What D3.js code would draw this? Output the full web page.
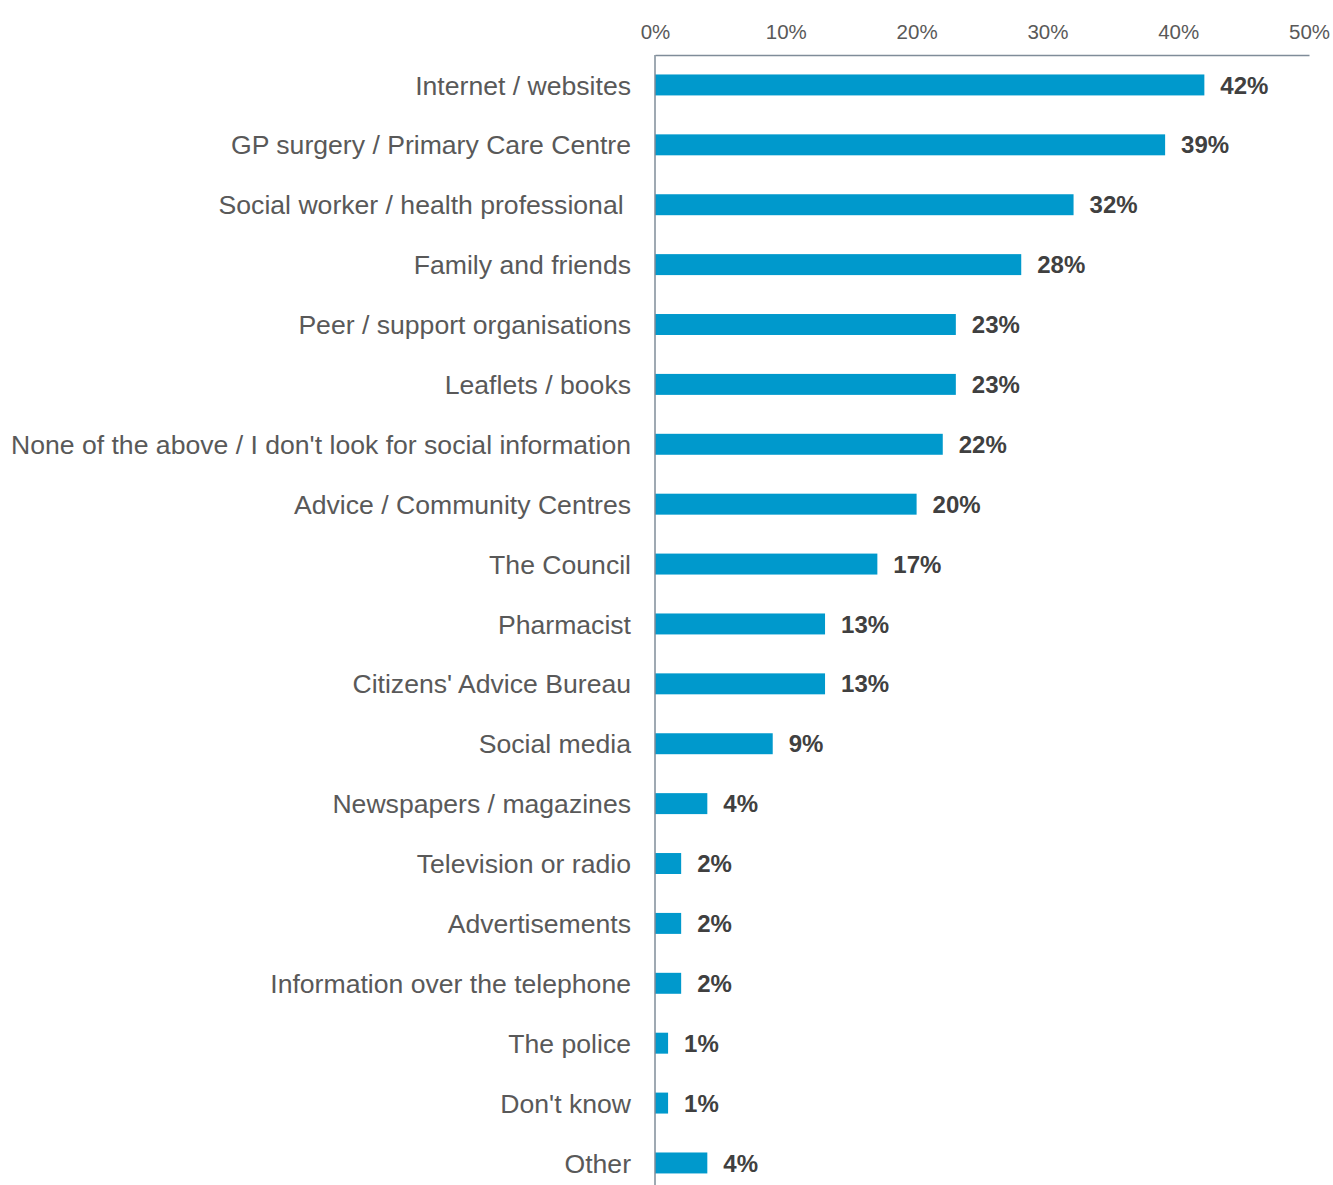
<!DOCTYPE html>
<html>
<head>
<meta charset="utf-8">
<script src="https://cdn.jsdelivr.net/npm/d3@7"></script>
<style>
  html, body { margin: 0; padding: 0; background: #ffffff; }
  svg { display: block; font-family: "Liberation Sans", Arial, sans-serif; }
</style>
</head>
<body>
<svg id="chart" width="1333" height="1185"></svg>
<script>
// Where people look for social information (% of respondents)
const categories = [
  "Internet / websites",
  "GP surgery / Primary Care Centre",
  "Social worker / health professional ",
  "Family and friends",
  "Peer / support organisations",
  "Leaflets / books",
  "None of the above / I don't look for social information",
  "Advice / Community Centres",
  "The Council",
  "Pharmacist",
  "Citizens' Advice Bureau",
  "Social media",
  "Newspapers / magazines",
  "Television or radio",
  "Advertisements",
  "Information over the telephone",
  "The police",
  "Don't know",
  "Other"
];
const values = [42, 39, 32, 28, 23, 23, 22, 20, 17, 13, 13, 9, 4, 2, 2, 2, 1, 1, 4];
const tickValues = [0, 10, 20, 30, 40, 50];

const svg = d3.select("#chart");
const margin = { top: 55, left: 655, right: 24 };
const width = 1333 - margin.left - margin.right;
const step = 59.89;
const innerH = step * categories.length;

const x = d3.scaleLinear().domain([0, 50]).range([0, width]);
const y = d3.scaleBand().domain(categories).range([0, innerH]).paddingInner(0.65).paddingOuter(0.325);

const g = svg.append("g").attr("transform", `translate(${margin.left},${margin.top})`);

// top axis with percentage ticks
const xAxis = d3.axisTop(x).tickValues(tickValues).tickFormat(d => d + "%").tickSize(0).tickPadding(16);
const gx = g.append("g").call(xAxis);
gx.select(".domain").attr("stroke", "#7f8c99").attr("stroke-width", 1.5);
gx.selectAll("text").attr("fill", "#595959").style("font-size", "20.5px");

// bars
g.selectAll("rect.bar").data(values).join("rect")
  .attr("class", "bar")
  .attr("x", 0)
  .attr("y", (d, i) => y(categories[i]))
  .attr("width", d => x(d))
  .attr("height", y.bandwidth())
  .attr("fill", "#0099cc");

// value labels
g.selectAll("text.val").data(values).join("text")
  .attr("class", "val")
  .attr("x", d => x(d) + 16)
  .attr("y", (d, i) => y(categories[i]) + y.bandwidth() / 2)
  .attr("dy", "0.36em")
  .attr("fill", "#404040")
  .style("font-size", "24px")
  .style("font-weight", "bold")
  .text(d => d + "%");

// category labels
g.selectAll("text.cat").data(categories).join("text")
  .attr("class", "cat")
  .attr("x", -24)
  .attr("y", d => y(d) + y.bandwidth() / 2)
  .attr("dy", "0.36em")
  .attr("text-anchor", "end")
  .attr("fill", "#595959")
  .style("font-size", "26.6px")
  .style("white-space", "pre")
  .text(d => d);

// vertical category axis line
g.append("line")
  .attr("x1", 0).attr("x2", 0)
  .attr("y1", 0).attr("y2", innerH)
  .attr("stroke", "#7f8c99").attr("stroke-width", 1.5);
</script>
</body>
</html>
